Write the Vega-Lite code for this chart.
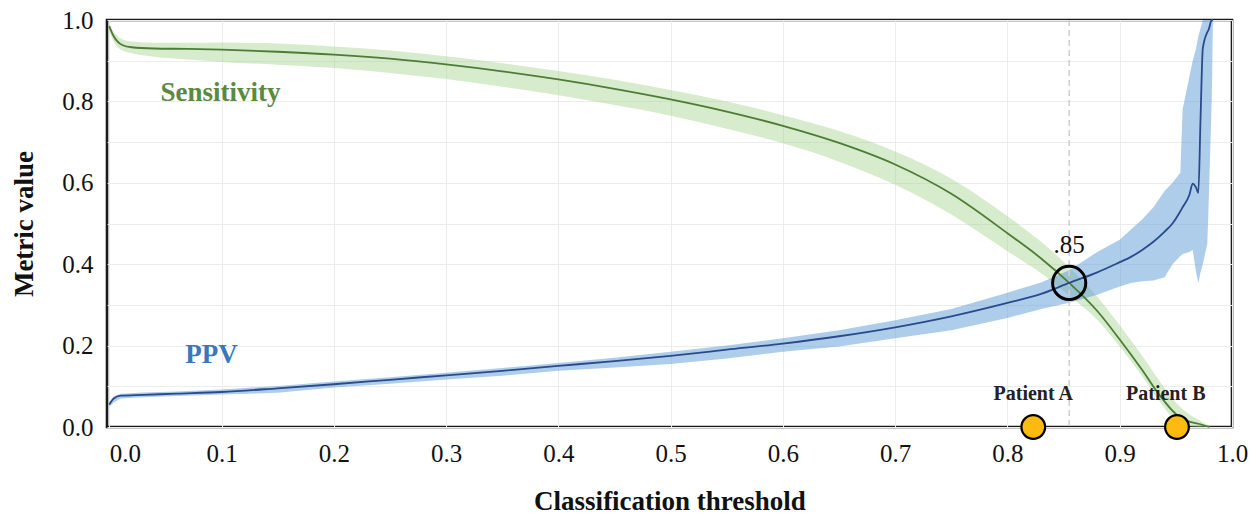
{
  "$schema": "https://vega.github.io/schema/vega-lite/v6.json",
  "width": 1125,
  "height": 407,
  "autosize": "none",
  "padding": {"left": 107, "top": 20, "right": 22, "bottom": 91},
  "config": {
    "font": "Liberation Serif",
    "view": {"stroke": "#1a1a1a", "strokeWidth": 2.6},
    "axis": {"labelFont": "Liberation Serif", "titleFont": "Liberation Serif", "labelColor": "#111111", "titleColor": "#111111", "domain": false, "ticks": false, "gridColor": "#ececec", "gridWidth": 1}
  },
  "datasets": {
    "sens": [
      {"t": 0.000, "v": 0.985, "lo": 0.975, "hi": 0.99},
      {"t": 0.003, "v": 0.965, "lo": 0.952, "hi": 0.975},
      {"t": 0.007, "v": 0.948, "lo": 0.935, "hi": 0.962},
      {"t": 0.012, "v": 0.938, "lo": 0.925, "hi": 0.952},
      {"t": 0.02, "v": 0.933, "lo": 0.918, "hi": 0.947},
      {"t": 0.04, "v": 0.930, "lo": 0.91, "hi": 0.944},
      {"t": 0.07, "v": 0.929, "lo": 0.903, "hi": 0.944},
      {"t": 0.1, "v": 0.927, "lo": 0.897, "hi": 0.945},
      {"t": 0.15, "v": 0.922, "lo": 0.89, "hi": 0.942},
      {"t": 0.2, "v": 0.915, "lo": 0.882, "hi": 0.935},
      {"t": 0.25, "v": 0.905, "lo": 0.87, "hi": 0.925},
      {"t": 0.3, "v": 0.891, "lo": 0.855, "hi": 0.911},
      {"t": 0.35, "v": 0.874, "lo": 0.836, "hi": 0.894},
      {"t": 0.4, "v": 0.854, "lo": 0.815, "hi": 0.875},
      {"t": 0.45, "v": 0.831, "lo": 0.791, "hi": 0.853},
      {"t": 0.5, "v": 0.805, "lo": 0.765, "hi": 0.828},
      {"t": 0.55, "v": 0.775, "lo": 0.733, "hi": 0.8},
      {"t": 0.6, "v": 0.74, "lo": 0.697, "hi": 0.766},
      {"t": 0.65, "v": 0.698, "lo": 0.652, "hi": 0.727},
      {"t": 0.7, "v": 0.645, "lo": 0.595, "hi": 0.677},
      {"t": 0.75, "v": 0.573, "lo": 0.522, "hi": 0.61},
      {"t": 0.8, "v": 0.476, "lo": 0.432, "hi": 0.518},
      {"t": 0.83, "v": 0.414, "lo": 0.378, "hi": 0.455},
      {"t": 0.855, "v": 0.354, "lo": 0.323, "hi": 0.393},
      {"t": 0.88, "v": 0.285, "lo": 0.263, "hi": 0.32},
      {"t": 0.9, "v": 0.215, "lo": 0.198, "hi": 0.25},
      {"t": 0.92, "v": 0.14, "lo": 0.125, "hi": 0.175},
      {"t": 0.935, "v": 0.08, "lo": 0.065, "hi": 0.115},
      {"t": 0.95, "v": 0.032, "lo": 0.015, "hi": 0.06},
      {"t": 0.96, "v": 0.015, "lo": 0.003, "hi": 0.035},
      {"t": 0.97, "v": 0.008, "lo": 0.0, "hi": 0.018},
      {"t": 0.98, "v": 0.0, "lo": 0.0, "hi": 0.003}
    ],
    "ppv": [
      {"t": 0.000, "v": 0.055, "lo": 0.05, "hi": 0.06},
      {"t": 0.004, "v": 0.07, "lo": 0.06, "hi": 0.075},
      {"t": 0.01, "v": 0.077, "lo": 0.07, "hi": 0.082},
      {"t": 0.03, "v": 0.079, "lo": 0.073, "hi": 0.085},
      {"t": 0.06, "v": 0.082, "lo": 0.076, "hi": 0.087},
      {"t": 0.1, "v": 0.086, "lo": 0.08, "hi": 0.092},
      {"t": 0.15, "v": 0.095, "lo": 0.084, "hi": 0.101},
      {"t": 0.2, "v": 0.105, "lo": 0.097, "hi": 0.112},
      {"t": 0.25, "v": 0.116, "lo": 0.106, "hi": 0.122},
      {"t": 0.3, "v": 0.127, "lo": 0.117, "hi": 0.133},
      {"t": 0.35, "v": 0.138, "lo": 0.126, "hi": 0.145},
      {"t": 0.4, "v": 0.15, "lo": 0.138, "hi": 0.157},
      {"t": 0.45, "v": 0.162, "lo": 0.146, "hi": 0.17},
      {"t": 0.5, "v": 0.175, "lo": 0.155, "hi": 0.185},
      {"t": 0.55, "v": 0.19, "lo": 0.168, "hi": 0.2},
      {"t": 0.6, "v": 0.205, "lo": 0.185, "hi": 0.218},
      {"t": 0.65, "v": 0.223, "lo": 0.198, "hi": 0.238},
      {"t": 0.7, "v": 0.245, "lo": 0.218, "hi": 0.262},
      {"t": 0.75, "v": 0.272, "lo": 0.238, "hi": 0.29},
      {"t": 0.8, "v": 0.305, "lo": 0.268, "hi": 0.33},
      {"t": 0.83, "v": 0.327, "lo": 0.29, "hi": 0.355},
      {"t": 0.855, "v": 0.354, "lo": 0.305, "hi": 0.385},
      {"t": 0.88, "v": 0.38, "lo": 0.325, "hi": 0.43},
      {"t": 0.9, "v": 0.405, "lo": 0.345, "hi": 0.46},
      {"t": 0.91, "v": 0.418, "lo": 0.354, "hi": 0.485},
      {"t": 0.92, "v": 0.435, "lo": 0.358, "hi": 0.51},
      {"t": 0.93, "v": 0.455, "lo": 0.36, "hi": 0.54},
      {"t": 0.94, "v": 0.48, "lo": 0.368, "hi": 0.58},
      {"t": 0.947, "v": 0.5, "lo": 0.40, "hi": 0.60},
      {"t": 0.954, "v": 0.53, "lo": 0.42, "hi": 0.625},
      {"t": 0.956, "v": 0.54, "lo": 0.425, "hi": 0.78},
      {"t": 0.962, "v": 0.57, "lo": 0.43, "hi": 0.86},
      {"t": 0.965, "v": 0.598, "lo": 0.435, "hi": 0.90},
      {"t": 0.968, "v": 0.588, "lo": 0.38, "hi": 0.93},
      {"t": 0.970, "v": 0.575, "lo": 0.354, "hi": 0.96},
      {"t": 0.972, "v": 0.76, "lo": 0.38, "hi": 0.98},
      {"t": 0.974, "v": 0.93, "lo": 0.40, "hi": 1.0},
      {"t": 0.978, "v": 0.97, "lo": 0.45, "hi": 1.0},
      {"t": 0.979, "v": 0.975, "lo": 0.53, "hi": 1.0},
      {"t": 0.982, "v": 1.0, "lo": 0.81, "hi": 1.0},
      {"t": 0.983, "v": 1.0, "lo": 1.0, "hi": 1.0}
    ],
    "cut": [{"t": 0.855, "v": 0.354, "label": ".85"}],
    "patients": [
      {"t": 0.823, "v": 0, "name": "Patient A", "lx": 0.823},
      {"t": 0.951, "v": 0, "name": "Patient B", "lx": 0.941}
    ],
    "series": [
      {"t": 0.099, "v": 0.82, "name": "Sensitivity", "c": "Sensitivity"},
      {"t": 0.091, "v": 0.177, "name": "PPV", "c": "PPV"}
    ]
  },
  "layer": [
    {
      "data": {"name": "sens"},
      "mark": {"type": "area", "color": "#9fcf87", "opacity": 0.42, "interpolate": "monotone"},
      "encoding": {
        "x": {"field": "t", "type": "quantitative", "scale": {"domain": [-0.002, 1], "nice": false, "zero": false},
          "axis": {"values": [0, 0.1, 0.2, 0.3, 0.4, 0.5, 0.6, 0.7, 0.8, 0.9, 1.0], "format": ".1f", "title": "Classification threshold", "labelFont": "Liberation Serif", "titleFont": "Liberation Serif", "labelFontSize": 25, "titleFontSize": 27, "titleFontWeight": "bold", "labelPadding": 14, "titlePadding": 22, "labelFlush": false,
            "labelAlign": {"condition": {"test": "datum.value == 0", "value": "left"}, "value": "center"}}},
        "y": {"field": "lo", "type": "quantitative", "scale": {"domain": [0, 1], "nice": false},
          "axis": {"values": [0, 0.1, 0.2, 0.3, 0.4, 0.5, 0.6, 0.7, 0.8, 0.9, 1.0], "labelExpr": "round(datum.value*10) % 2 == 0 ? format(datum.value, '.1f') : ''", "title": "Metric value", "labelFont": "Liberation Serif", "titleFont": "Liberation Serif", "labelFontSize": 25, "titleFontSize": 27, "titleFontWeight": "bold", "labelPadding": 14, "titlePadding": 23}},
        "y2": {"field": "hi"}
      }
    },
    {
      "data": {"name": "ppv"},
      "mark": {"type": "area", "color": "#5b9bd5", "opacity": 0.5, "interpolate": "linear"},
      "encoding": {
        "x": {"field": "t", "type": "quantitative"},
        "y": {"field": "lo", "type": "quantitative"},
        "y2": {"field": "hi"}
      }
    },
    {
      "data": {"name": "cut"},
      "mark": {"type": "rule", "color": "#cfcfcf", "strokeDash": [6, 4], "strokeWidth": 1.5},
      "encoding": {"x": {"field": "t", "type": "quantitative"}}
    },
    {
      "data": {"name": "sens"},
      "mark": {"type": "line", "color": "#4d7c36", "strokeWidth": 1.8, "interpolate": "monotone"},
      "encoding": {"x": {"field": "t", "type": "quantitative"}, "y": {"field": "v", "type": "quantitative"}}
    },
    {
      "data": {"name": "ppv"},
      "mark": {"type": "line", "color": "#2b4a8b", "strokeWidth": 1.8, "interpolate": "monotone"},
      "encoding": {"x": {"field": "t", "type": "quantitative"}, "y": {"field": "v", "type": "quantitative"}}
    },
    {
      "data": {"name": "cut"},
      "mark": {"type": "point", "shape": "circle", "filled": false, "size": 1100, "stroke": "#000000", "strokeWidth": 3, "opacity": 1},
      "encoding": {"x": {"field": "t", "type": "quantitative"}, "y": {"field": "v", "type": "quantitative"}}
    },
    {
      "data": {"name": "cut"},
      "mark": {"type": "text", "fontSize": 25, "dy": -38, "color": "#111111", "font": "Liberation Serif"},
      "encoding": {"x": {"field": "t", "type": "quantitative"}, "y": {"field": "v", "type": "quantitative"}, "text": {"field": "label"}}
    },
    {
      "data": {"name": "patients"},
      "mark": {"type": "point", "shape": "circle", "filled": true, "size": 560, "fill": "#FDBB0F", "stroke": "#000000", "strokeWidth": 2.2, "opacity": 1, "clip": false},
      "encoding": {"x": {"field": "t", "type": "quantitative"}, "y": {"field": "v", "type": "quantitative"}}
    },
    {
      "data": {"name": "patients"},
      "mark": {"type": "text", "fontSize": 20, "fontWeight": "bold", "dy": -33, "color": "#222222", "font": "Liberation Serif"},
      "encoding": {"x": {"field": "lx", "type": "quantitative"}, "y": {"field": "v", "type": "quantitative"}, "text": {"field": "name"}}
    },
    {
      "data": {"name": "series"},
      "mark": {"type": "text", "fontSize": 27, "fontWeight": "bold", "font": "Liberation Serif"},
      "encoding": {
        "x": {"field": "t", "type": "quantitative"},
        "y": {"field": "v", "type": "quantitative"},
        "text": {"field": "name"},
        "color": {"field": "c", "type": "nominal", "scale": {"domain": ["Sensitivity", "PPV"], "range": ["#5b8a3f", "#3b78b8"]}, "legend": null}
      }
    }
  ]
}
